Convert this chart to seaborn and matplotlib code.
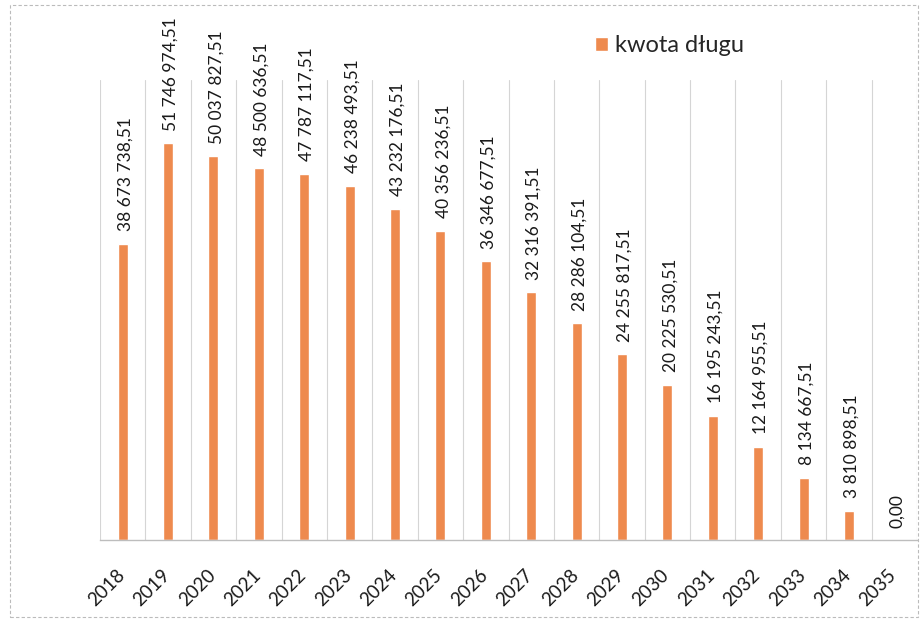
import matplotlib
matplotlib.use("Agg")
import matplotlib.pyplot as plt
import matplotlib.transforms as mtransforms
import seaborn as sns
import pandas as pd
from matplotlib.patches import Rectangle

years = ["2018", "2019", "2020", "2021", "2022", "2023", "2024", "2025", "2026",
         "2027", "2028", "2029", "2030", "2031", "2032", "2033", "2034", "2035"]
debt = [38673738.51, 51746974.51, 50037827.51, 48500636.51, 47787117.51,
        46238493.51, 43232176.51, 40356236.51, 36346677.51, 32316391.51,
        28286104.51, 24255817.51, 20225530.51, 16195243.51, 12164955.51,
        8134667.51, 3810898.51, 0.00]
series_name = "kwota długu"

df = pd.DataFrame({"rok": years, "kwota": debt, "seria": series_name})

sns.set_theme(style="white")
plt.rcParams['font.family'] = ['Lato', 'DejaVu Sans']

fig = plt.figure(figsize=(9.23, 6.22), dpi=100)
ax = fig.add_axes([100/923, 82/622, 817/923, 460/622])

color = "#EE8A4E"
sns.barplot(data=df, x="rok", y="kwota", hue="seria", palette=[color],
            width=0.22, ax=ax, legend=True, saturation=1)

ax.set_ylim(0, 60_000_000)
ax.set_xlim(-0.5, len(years) - 0.5)
ax.set_yticks([])
ax.set_xlabel("")
ax.set_ylabel("")

# vertical gridlines at category boundaries
ax.set_xticks([i - 0.5 for i in range(len(years) + 1)], minor=True)
ax.grid(axis="x", which="minor", color="#D5D5D5", linewidth=0.8)
ax.grid(axis="x", which="major", visible=False)
ax.tick_params(axis="x", which="both", length=0, pad=19)

for side in ["top", "left", "right"]:
    ax.spines[side].set_visible(False)
ax.spines["bottom"].set_color("#BDBDBD")
ax.spines["bottom"].set_linewidth(1.0)

shift = mtransforms.ScaledTranslation(-5/72, 0, fig.dpi_scale_trans)
for lbl in ax.get_xticklabels():
    lbl.set_rotation(45)
    lbl.set_ha("right")
    lbl.set_rotation_mode("anchor")
    lbl.set_fontsize(13.5)
    lbl.set_color("#1a1a1a")
    lbl.set_transform(lbl.get_transform() + shift)

def fmt(v):
    s = f"{v:,.2f}"
    return s.replace(",", " ").replace(".", ",")

for i, v in enumerate(debt):
    ax.annotate(fmt(v), xy=(i, v), xytext=(2, 9), textcoords="offset points",
                rotation=90, ha="center", va="bottom", fontsize=12.5,
                color="#1a1a1a", annotation_clip=False)

leg = ax.legend(loc="center left", bbox_to_anchor=(574/923, 1 - 46/622),
                bbox_transform=fig.transFigure, frameon=False, fontsize=17,
                handlelength=0.55, handleheight=0.55, handletextpad=0.3)

fig.patches.append(Rectangle((10/923, 5/622), 908/923, 612/622,
                             transform=fig.transFigure, fill=False,
                             edgecolor="#BBBBBB", linestyle=(0, (3, 2)),
                             linewidth=0.8))

fig.savefig("out.png", dpi=100)
